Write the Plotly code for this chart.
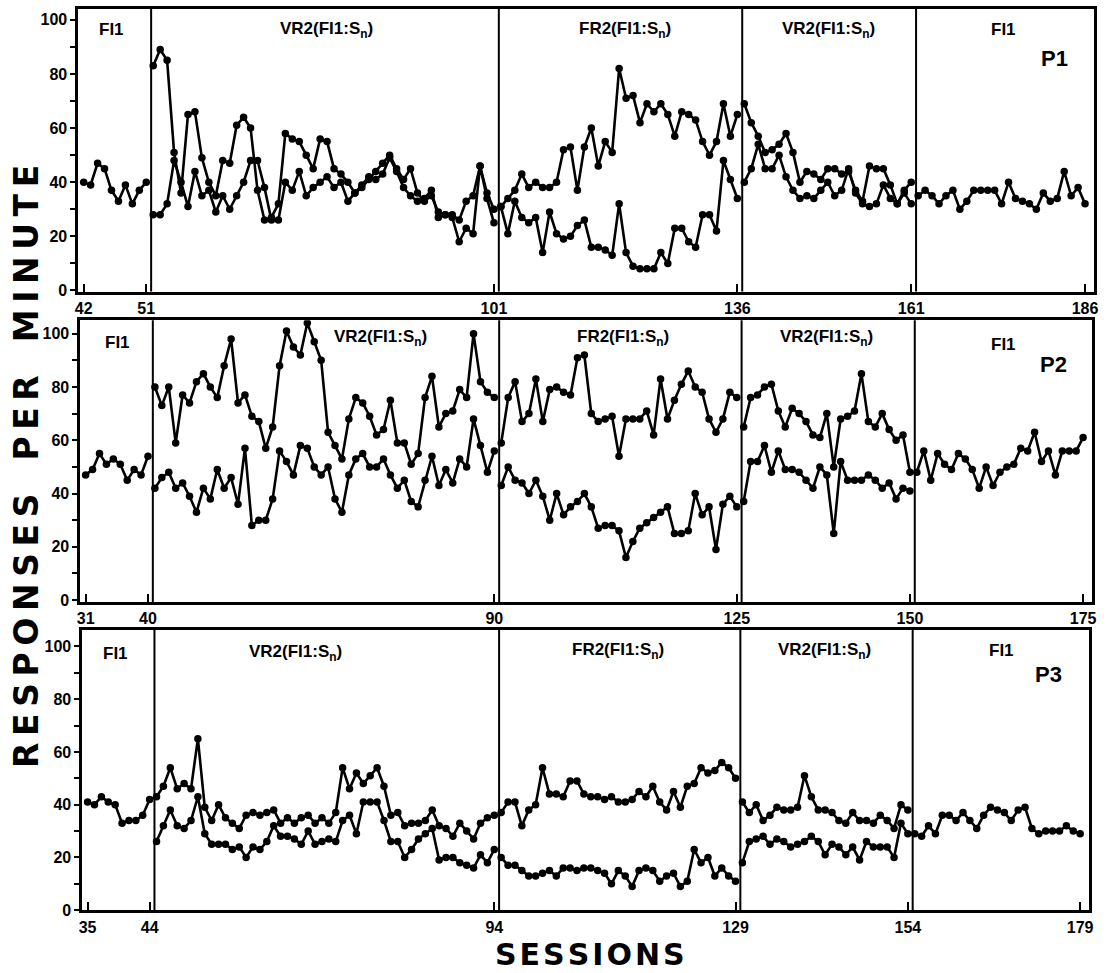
import plotly.graph_objects as go

# ---------------- data ----------------
p1_ticks = [42, 51, 101, 136, 161, 186]
p2_ticks = [31, 40, 90, 125, 150, 175]
p3_ticks = [35, 44, 94, 129, 154, 179]
y_ticks = [0, 20, 40, 60, 80, 100]
phase_names = ["FI1", "VR2(FI1:S<sub>n</sub>)", "FR2(FI1:S<sub>n</sub>)", "VR2(FI1:S<sub>n</sub>)", "FI1"]
panel_names = ["P1", "P2", "P3"]

# P1
p1_fi1_a = [40, 39, 47, 45, 37, 33, 39, 32, 37, 40]
p1_vr2_hi = [83, 89, 85, 51, 36, 65, 66, 49, 40, 35, 48, 47, 61, 64, 60, 37, 26, 27, 32, 58, 56, 55, 50, 45, 56, 55, 45,
             43, 40, 36, 38, 41, 44, 47, 50, 45, 41, 45, 36, 33, 35, 29, 28, 28, 26, 33, 35, 46, 36, 30]
p1_vr2_lo = [28, 28, 32, 48, 40, 31, 44, 35, 37, 29, 35, 30, 35, 40, 48, 48, 38, 26, 26, 40, 37, 44, 35, 38, 40, 42, 38,
             40, 33, 36, 39, 42, 41, 43, 49, 44, 38, 35, 33, 34, 37, 27, 28, 27, 18, 23, 21, 46, 34, 25]
p1_fr2_hi = [31, 34, 37, 43, 38, 40, 38, 38, 40, 52, 53, 37, 53, 60, 46, 55, 51, 82, 71, 72, 62, 69, 66, 69, 65, 57, 66,
             65, 63, 55, 50, 55, 69, 57, 65]
p1_fr2_lo = [31, 21, 33, 27, 25, 27, 14, 29, 21, 19, 20, 24, 26, 16, 16, 15, 13, 32, 14, 9, 8, 8, 8, 14, 10, 23, 23,
             18, 16, 28, 28, 22, 48, 41, 34]
p1_vr2b_hi = [69, 62, 57, 51, 52, 54, 58, 51, 40, 44, 43, 41, 45, 45, 43, 44, 37, 33, 46, 45, 45, 39, 32, 37, 40]
p1_vr2b_lo = [40, 45, 54, 45, 45, 50, 42, 37, 34, 35, 34, 37, 40, 35, 37, 45, 36, 32, 31, 32, 39, 34, 32, 36, 32]
p1_fi1_b = [35, 37, 35, 32, 35, 37, 30, 33, 37, 37, 37, 37, 32, 40, 34, 33, 32, 30, 36, 33, 34, 44, 35, 38, 32]

# P2
p2_fi1_a = [47, 49, 55, 51, 53, 51, 45, 49, 47, 54]
p2_vr2_hi = [80, 73, 80, 59, 77, 74, 82, 85, 80, 76, 88, 98, 74, 77, 69, 67, 57, 65, 88, 101, 95, 92, 104, 97, 90, 63, 58,
             53, 68, 76, 74, 69, 62, 64, 75, 59, 59, 51, 55, 76, 84, 65, 70, 71, 79, 76, 100, 82, 78, 76]
p2_vr2_lo = [42, 46, 48, 42, 44, 39, 33, 42, 38, 49, 42, 46, 36, 57, 28, 30, 30, 38, 56, 52, 47, 58, 57, 50, 47, 50, 38,
             33, 47, 53, 55, 50, 50, 53, 47, 42, 45, 37, 35, 45, 54, 43, 49, 44, 53, 50, 68, 58, 48, 56]
p2_fr2_hi = [59, 76, 82, 67, 70, 83, 67, 79, 80, 78, 77, 91, 92, 70, 67, 68, 69, 54, 68, 68, 68, 71, 62, 83, 68, 75, 81,
             86, 80, 78, 68, 63, 68, 78, 76]
p2_fr2_lo = [43, 50, 45, 44, 40, 45, 39, 30, 40, 32, 35, 37, 40, 35, 27, 28, 28, 26, 16, 22, 27, 29, 31, 33, 35, 25, 25,
             26, 40, 32, 35, 19, 36, 39, 35]
p2_vr2b_hi = [65, 76, 77, 80, 81, 71, 65, 72, 70, 67, 62, 61, 70, 50, 68, 69, 71, 85, 67, 65, 70, 64, 60, 62, 48]
p2_vr2b_lo = [37, 52, 52, 58, 48, 56, 49, 49, 48, 45, 42, 50, 47, 25, 52, 45, 45, 45, 47, 45, 42, 44, 38, 42, 41]
p2_fi1_b = [48, 56, 45, 55, 51, 49, 55, 53, 49, 42, 50, 43, 48, 50, 51, 57, 56, 63, 52, 56, 47, 56, 56, 56, 61]

# P3
p3_fi1_a = [41, 40, 43, 41, 40, 33, 34, 34, 36, 42]
p3_vr2_hi = [43, 47, 54, 46, 48, 46, 65, 39, 34, 40, 35, 33, 31, 36, 37, 36, 37, 38, 33, 35, 33, 35, 36, 33, 35, 33, 37,
             54, 46, 52, 48, 51, 54, 47, 36, 37, 32, 33, 33, 34, 38, 32, 31, 28, 33, 30, 27, 33, 35, 36]
p3_vr2_lo = [26, 32, 38, 32, 31, 34, 43, 29, 25, 25, 25, 23, 24, 20, 24, 23, 26, 32, 28, 28, 27, 25, 30, 25, 26, 27, 26,
             34, 36, 29, 41, 41, 41, 34, 26, 26, 20, 23, 27, 29, 31, 19, 20, 20, 18, 17, 16, 21, 18, 23]
p3_fr2_hi = [37, 41, 41, 32, 38, 40, 54, 44, 44, 43, 49, 49, 44, 43, 43, 42, 43, 41, 41, 42, 45, 43, 47, 41, 38, 45, 39,
             47, 48, 54, 52, 53, 56, 54, 50]
p3_fr2_lo = [20, 17, 17, 15, 13, 13, 14, 15, 13, 16, 16, 15, 16, 16, 15, 14, 10, 15, 13, 9, 15, 16, 15, 11, 13, 14, 9,
             11, 23, 18, 20, 13, 16, 13, 11]
p3_vr2b_hi = [41, 37, 40, 34, 36, 39, 38, 38, 39, 51, 43, 38, 38, 37, 34, 33, 37, 34, 34, 33, 36, 34, 31, 40, 38]
p3_vr2b_lo = [18, 26, 27, 28, 25, 27, 26, 24, 25, 26, 28, 26, 21, 25, 24, 21, 24, 19, 26, 24, 24, 24, 20, 33, 29]
p3_fi1_b = [29, 28, 32, 29, 36, 36, 34, 37, 34, 31, 36, 39, 38, 37, 34, 38, 39, 31, 29, 30, 30, 30, 32, 30, 29]

panels = [
    dict(ticks=p1_ticks, phases=[[p1_fi1_a], [p1_vr2_hi, p1_vr2_lo], [p1_fr2_hi, p1_fr2_lo],
                                 [p1_vr2b_hi, p1_vr2b_lo], [p1_fi1_b]]),
    dict(ticks=p2_ticks, phases=[[p2_fi1_a], [p2_vr2_hi, p2_vr2_lo], [p2_fr2_hi, p2_fr2_lo],
                                 [p2_vr2b_hi, p2_vr2b_lo], [p2_fi1_b]]),
    dict(ticks=p3_ticks, phases=[[p3_fi1_a], [p3_vr2_hi, p3_vr2_lo], [p3_fr2_hi, p3_fr2_lo],
                                 [p3_vr2b_hi, p3_vr2b_lo], [p3_fi1_b]]),
]

# ---------------- layout geometry (pixels) ----------------
W, H = 1110, 973
box_px = [(75, 1098, 9, 294), (77, 1096, 323, 607), (79, 1093, 635, 918)]
y_ranges = [[-0.4, 104], [-0.7, 105], [-0.1, 106.3]]
label_px = [
    [(108, 30), (325, 30), (626, 30), (830, 30), (1007, 30)],
    [(114, 345), (379, 341), (623, 341), (828, 341), (1007, 347)],
    [(112, 659), (294, 658), (618, 656), (826, 656), (1005, 656)],
]
plabel_px = [(1058, 59), (1057, 368), (1052, 680)]

def px_x(p):
    return p / W

def px_y(p):
    return 1 - p / H

def spaced(text, gap, word_gap):
    return word_gap.join(gap.join(list(w)) for w in text.split(" "))

fig = go.Figure()
BOLD = dict(family="Liberation Sans", color="black", weight="bold")

for pi, panel in enumerate(panels):
    sfx = "" if pi == 0 else str(pi + 1)
    ticks = panel["ticks"]
    for j, series_list in enumerate(panel["phases"]):
        start = ticks[0] if j == 0 else ticks[j] + 1
        for vals in series_list:
            fig.add_trace(go.Scatter(
                x=[start + i for i in range(len(vals))], y=vals,
                mode="lines+markers", xaxis="x" + sfx, yaxis="y" + sfx,
                line=dict(color="black", width=2.6),
                marker=dict(color="black", size=7.5),
                showlegend=False, hoverinfo="x+y"))
    x0, x1, y0, y1 = box_px[pi]
    fig.layout["xaxis" + sfx] = dict(
        domain=[px_x(x0), px_x(x1)], anchor="y" + sfx,
        range=[ticks[0] - 0.75, ticks[-1] + 1.3],
        tickmode="array", tickvals=ticks, ticktext=[str(t) for t in ticks],
        ticks="inside", ticklen=8, tickwidth=2, tickcolor="black",
        showline=True, linewidth=3, linecolor="black", mirror=True,
        showgrid=False, zeroline=False,
        tickfont=dict(size=16, **BOLD))
    fig.layout["yaxis" + sfx] = dict(
        domain=[px_y(y1), px_y(y0)], anchor="x" + sfx,
        range=y_ranges[pi],
        tickmode="array", tickvals=y_ticks, ticktext=[str(t) for t in y_ticks],
        ticks="outside", ticklen=5, tickwidth=2, tickcolor="black",
        minor=dict(tickvals=[10, 30, 50, 70, 90], ticks="outside", ticklen=5, tickwidth=2, tickcolor="black"),
        showline=True, linewidth=3, linecolor="black", mirror=True,
        showgrid=False, zeroline=False,
        tickfont=dict(size=16, **BOLD))
    for b in ticks[1:-1]:
        fig.add_shape(type="line", xref="x" + sfx, yref=("y" + sfx) + " domain",
                      x0=b + 0.7, x1=b + 0.7, y0=0, y1=1,
                      line=dict(color="black", width=2))
    for j, name in enumerate(phase_names):
        lx, ly = label_px[pi][j]
        fig.add_annotation(x=px_x(lx), y=px_y(ly), xref="paper", yref="paper",
                           text=name, showarrow=False, xanchor="center", yanchor="middle",
                           font=dict(size=17, **BOLD))
    lx, ly = plabel_px[pi]
    fig.add_annotation(x=px_x(lx), y=px_y(ly), xref="paper", yref="paper",
                       text=panel_names[pi], showarrow=False, xanchor="center", yanchor="middle",
                       font=dict(size=22, **BOLD))

fig.add_annotation(x=px_x(22), y=px_y(470), xref="paper", yref="paper",
                   text=spaced("RESPONSES PER MINUTE", "\u2009", "\u2003"), textangle=-90,
                   showarrow=False, xanchor="center", yanchor="middle",
                   font=dict(family="DejaVu Sans", size=33, color="black", weight="bold"))
fig.add_annotation(x=px_x(590), y=px_y(962), xref="paper", yref="paper",
                   text=spaced("SESSIONS", "\u200a", " "), showarrow=False, xanchor="center", yanchor="middle",
                   font=dict(family="DejaVu Sans", size=30, color="black", weight="bold"))

fig.update_layout(width=W, height=H, margin=dict(l=0, r=0, t=0, b=0),
                  paper_bgcolor="white", plot_bgcolor="white", showlegend=False)

fig.write_html("out.html", config={"displayModeBar": False},
               post_script="document.body.style.margin='0';")
